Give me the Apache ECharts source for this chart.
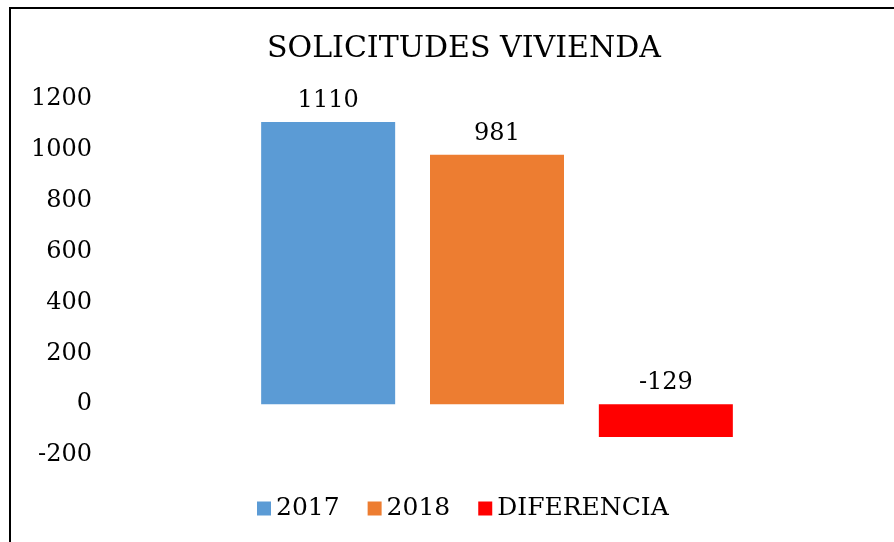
<!DOCTYPE html>
<html>
<head>
<meta charset="utf-8">
<script src="https://cdn.jsdelivr.net/npm/echarts@6/dist/echarts.min.js"></script>
<style>
    html, body { margin: 0; padding: 0; background: #fff; overflow: hidden; }
    #chart { width: 894px; height: 542px; }
    #frame { position: absolute; left: 9px; top: 7px; width: 1000px; height: 1000px;
             border: 2px solid #000; pointer-events: none; }
</style>
</head>
<body>
<div id="chart"></div>
<div id="frame"></div>
<script>
var categories = ['SOLICITUDES'];
var seriesNames = ['2017', '2018', 'DIFERENCIA'];
var values2017 = [1110];
var values2018 = [981];
var valuesDiff = [-129];
var colors = ['#5B9BD5', '#ED7D31', '#FF0000'];

var font = 'DejaVu Serif';
var chart = echarts.init(document.getElementById('chart'));

function barSeries(name, data, color) {
    return {
        name: name,
        type: 'bar',
        data: data,
        barWidth: 134,
        barGap: '26%',
        itemStyle: {color: color, borderRadius: 0},
        label: {
            show: true,
            position: 'top',
            distance: 9,
            color: '#000',
            fontFamily: font,
            fontSize: 24
        }
    };
}

var option = {
    animation: false,
    title: {
        text: 'SOLICITUDES VIVIENDA',
        left: 262,
        top: 29,
        textStyle: {fontFamily: font, fontSize: 30, fontWeight: 'normal', color: '#000'}
    },
    legend: {
        bottom: 16,
        left: 252,
        itemWidth: 14,
        itemHeight: 14,
        itemGap: 28,
        icon: 'rect',
        textStyle: {fontFamily: font, fontSize: 25, color: '#000'},
        data: seriesNames
    },
    grid: {left: 100, right: 0, top: 99, bottom: 87},
    xAxis: {
        type: 'category',
        data: categories,
        axisLine: {show: false},
        axisTick: {show: false},
        axisLabel: {show: false}
    },
    yAxis: {
        type: 'value',
        min: -200,
        max: 1200,
        interval: 200,
        splitLine: {show: false},
        axisLine: {show: false},
        axisTick: {show: false},
        axisLabel: {
            fontFamily: font, fontSize: 24, color: '#000', margin: 8,
            formatter: function (v) { return String(v); }
        }
    },
    series: [
        barSeries(seriesNames[0], values2017, colors[0]),
        barSeries(seriesNames[1], values2018, colors[1]),
        barSeries(seriesNames[2], valuesDiff, colors[2])
    ]
};
chart.setOption(option);
</script>
</body>
</html>
